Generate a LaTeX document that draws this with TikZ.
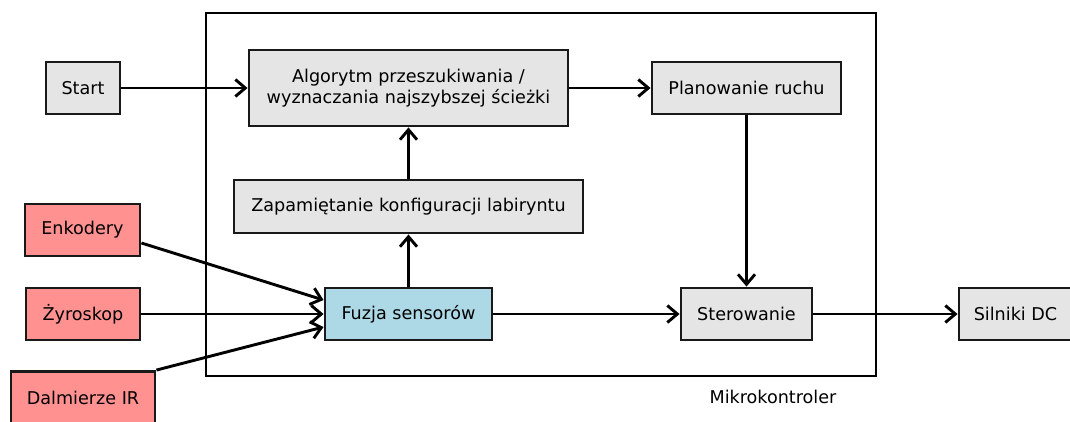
\documentclass[tikz,border=0pt]{standalone}
\usepackage{fontspec}
\setmainfont{DejaVu Sans}
\usetikzlibrary{arrows.meta}
\definecolor{boxgray}{HTML}{E5E5E5}
\definecolor{boxred}{HTML}{FF9191}
\definecolor{boxblue}{HTML}{ADD8E6}
\begin{document}
\begin{tikzpicture}[x=1pt,y=-1pt,
  font=\fontsize{17.6}{21}\selectfont,
  blk/.style={draw=black!90,line width=2.9pt,inner sep=0pt,align=center,fill=boxgray},
  red/.style={blk,fill=boxred},
  blue/.style={blk,fill=boxblue},
  arr/.style={line width=2.9pt,-{Straight Barb[length=10pt,width=17pt,line width=2.9pt]}}]
\useasboundingbox (0,0) rectangle (1070,421);
\begin{scope}
\clip (0,0) rectangle (1070,421);
\node[draw=black,line width=2.9pt,minimum width=670pt,minimum height=363pt,inner sep=0pt] (mk) at (541,194.5) {};
\node (mklab) at (773,397) {Mikrokontroler};
\node[blk,minimum width=74pt,minimum height=52pt] (start) at (83,88) {Start};
\node[blk,minimum width=319pt,minimum height=76pt] (alg) at (408.5,88) {Algorytm przeszukiwania /\\wyznaczania najszybszej ścieżki};
\node[blk,minimum width=189pt,minimum height=52pt] (plan) at (746.5,88) {Planowanie ruchu};
\node[blk,minimum width=349pt,minimum height=53pt] (zap) at (408.5,206.5) {Zapamiętanie konfiguracji labiryntu};
\node[red,minimum width=115pt,minimum height=52pt] (enk) at (82.5,230) {Enkodery};
\node[red,minimum width=114pt,minimum height=52pt] (zyr) at (83,314) {Żyroskop};
\node[red,minimum width=144pt,minimum height=52pt] (dal) at (83,397.5) {Dalmierze IR};
\node[blue,minimum width=167pt,minimum height=52pt] (fuz) at (408.5,314) {Fuzja sensorów};
\node[blk,minimum width=131pt,minimum height=52pt] (ster) at (746.5,314) {Sterowanie};
\node[blk,minimum width=113pt,minimum height=52pt] (sil) at (1015.5,314) {Silniki DC};
\draw[arr] (start) -- (alg);
\draw[arr] (alg) -- (plan);
\draw[arr] (plan) -- (ster);
\draw[arr] (fuz) -- (zap);
\draw[arr] (zap) -- (alg);
\draw[arr] ([yshift=-13pt]enk.east) -- ([yshift=14pt]fuz.west);
\draw[arr] (zyr) -- (fuz);
\draw[arr] (dal.north east) -- ([yshift=-13pt]fuz.west);
\draw[arr] (fuz) -- (ster);
\draw[arr] (ster) -- (sil);
\end{scope}
\end{tikzpicture}
\end{document}
